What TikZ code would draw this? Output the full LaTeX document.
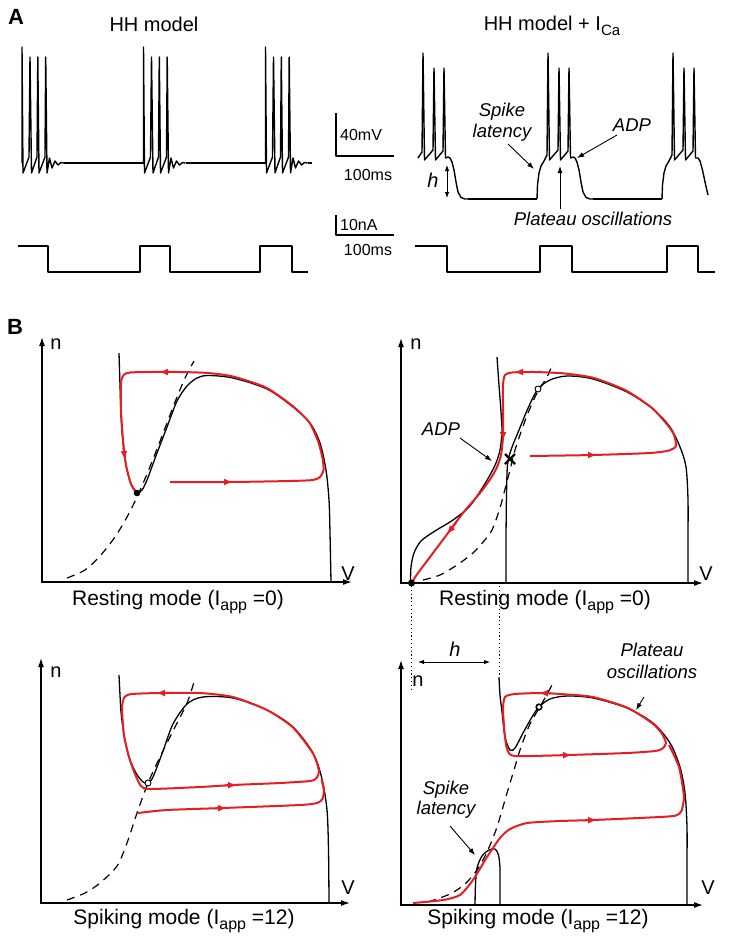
\documentclass[tikz,border=0pt]{standalone}
\usepackage{fontspec}
\setmainfont{Liberation Sans}
\usetikzlibrary{arrows.meta}
\definecolor{mred}{RGB}{228,30,36}
\newcommand\subt[2]{\raisebox{-0.28em}{\fontsize{#1}{#1}\selectfont #2}}
\begin{document}
\begin{tikzpicture}[x=1pt,y=-1pt,font=\fontsize{20}{24}\selectfont,
  trace/.style={line width=1.4pt,line join=round},
  axes/.style={line width=1.3pt,{Latex[length=9pt,width=6pt]}-{Latex[length=9pt,width=6pt]}},
  ncline/.style={line width=1.3pt},
  nnull/.style={line width=1.2pt,dash pattern=on 8pt off 6pt},
  traj/.style={draw=mred,line width=2pt,line join=round},
  redtip/.style={draw=mred,line width=2pt,-{Latex[length=9pt,width=7pt]}},
  pointer/.style={line width=0.9pt,-{Latex[length=7pt,width=5pt]}},
  ann/.style={font=\fontsize{18.5}{21}\selectfont\itshape,inner sep=0pt,align=center},
  txt/.style={inner sep=0pt},
  small/.style={font=\fontsize{16}{18}\selectfont,inner sep=0pt},
  plab/.style={font=\fontsize{21}{24}\selectfont,inner sep=0pt},
  bold/.style={font=\fontsize{22}{24}\selectfont\bfseries,inner sep=0pt},
  dots/.style={line width=0.9pt,dash pattern=on 1.2pt off 2.6pt}]
\useasboundingbox[fill=white] (0,0) rectangle (729,940);

%% ---------------- Panel A ----------------
\node[bold] (lA) at (16,17) {A};
\node[txt] (tHH) at (154,24) {HH model};
\node[txt] (tHHCa) at (552,26) {HH model + I\subt{15}{Ca}};

% left voltage trace
\foreach \s in {22,143.5,265.5}{
  \draw[trace,shift={(\s,0)}] (0,163) -- (0,47) -- (1,173) -- (7,157) -- (8,57) -- (9.5,173)
    -- (15,157) -- (15.8,57) -- (17,173) -- (23,157) -- (23.7,57) -- (25,173)
    -- (27.5,158) -- (30,168) -- (33,161) -- (36,165) -- (39,162.5) -- (42,163);
}
\draw[trace] (64,163) -- (143.5,163);
\draw[trace] (185.5,163) -- (265.5,163);
\draw[trace] (307.5,163) -- (312,163);

% left current trace
\draw[trace] (18,246) -- (48,246) -- (48,272) -- (140,272) -- (140,246) -- (170,246) -- (170,272)
  -- (260,272) -- (260,246) -- (292,246) -- (292,272) -- (308,272);

% scale bars
\draw[trace] (336,113) -- (336,156) -- (394,156);
\node[small,anchor=west] (t40) at (340,135) {40mV};
\node[small] (t100a) at (368,175) {100ms};
\draw[trace] (336,215) -- (336,235) -- (394,235);
\node[small,anchor=west] (t10) at (340,225) {10nA};
\node[small] (t100b) at (368,250) {100ms};

% right voltage trace
\draw[trace,shift={(423,0)}] (-5,158) -- (-1,152) -- (0,53) -- (1.5,160) -- (10,150) -- (11,68) -- (12.5,160)
    -- (20,151) -- (21,68) -- (22.5,158) -- (25,157) -- (27,158) -- (29,162) -- (31,170) -- (33,182)
    -- (35,192) -- (38,197.5) -- (42,199) -- (45,199);
\draw[trace,shift={(548,0)}] (-11,199) -- (-10.5,185) -- (-9,173) -- (-7,166) -- (-4,161) -- (-1,155)
    -- (0,53) -- (1.5,160) -- (10,150) -- (11,68) -- (12.5,160)
    -- (20,151) -- (21,68) -- (22.5,158) -- (25,157) -- (27,158) -- (29,162) -- (31,170) -- (33,182)
    -- (35,192) -- (38,197.5) -- (42,199) -- (45,199);
\draw[trace,shift={(673,0)}] (-11,199) -- (-10.5,185) -- (-9,173) -- (-7,166) -- (-4,161) -- (-1,155)
    -- (0,53) -- (1.5,160) -- (10,150) -- (11,68) -- (12.5,160)
    -- (20,151) -- (21,68) -- (22.5,158) -- (25,158) -- (27,161) -- (29.5,170) -- (32,182) -- (35,195);
\draw[trace] (468,199) -- (537,199);
\draw[trace] (593,199) -- (662,199);

% right current trace
\draw[trace] (415,246) -- (447,246) -- (447,272) -- (540,272) -- (540,246) -- (572,246) -- (572,272)
  -- (667,272) -- (667,246) -- (698,246) -- (698,272) -- (715,272);

% annotations A
\node[ann] (tSL) at (502,122) {Spike\\latency};
\coordinate (sla) at (508,144);
\coordinate (slb) at (534,169);
\draw[pointer] (sla) -- (slb);
\node[ann] (tADPa) at (632,125) {ADP};
\coordinate (adpa) at (617,135);
\coordinate (adpb) at (577,158);
\draw[pointer] (adpa) -- (adpb);
\node[ann] (tPOa) at (593,219) {Plateau oscillations};
\coordinate (poa) at (560,209);
\coordinate (pob) at (560,166);
\draw[pointer] (poa) -- (pob);
\node[ann,font=\fontsize{20}{22}\selectfont\itshape] (th1) at (433,180) {h};
\coordinate (h1a) at (447,165);
\coordinate (h1b) at (447,198);
\draw[line width=0.9pt,{Latex[length=6pt,width=4.5pt]}-{Latex[length=6pt,width=4.5pt]}] (h1a) -- (h1b);

%% ---------------- Panel B ----------------
\node[bold] (lB) at (15,327) {B};

% ---- B1 ----
\draw[axes] (42,337) |- (352,582);
\node[txt] (n1) at (56,344) {n};
\node[txt] (v1) at (348,574) {V};
\node[plab] (rm1) at (178,602) {Resting mode (I\subt{16}{app} =0)};
\draw[ncline] plot[smooth,tension=0.5] coordinates {(119,353) (120,385) (121,415) (123,443) (126,465) (131,484) (137,493) (142,490) (147,480) (157,453) (167,427) (177,401) (187,386) (197,378) (208,375.5) (233,378) (267,389) (293,407) (310,423) (320,443) (326,470) (329,500) (330,533) (331,582)};
\draw[nnull] plot[smooth,tension=0.5] coordinates {(67,578) (85,570) (100,556) (115,537) (127,517) (137,497) (147,474) (157,449) (167,423) (177,397) (186,376) (194,361)};
\draw[traj] plot[smooth,tension=0.4] coordinates {(170,482) (230,482) (290,481) (313,480) (320,477) (323.5,470) (322.5,458) (318,441) (309,422) (292,405.5) (266,387.5) (233,376.5) (208,373) (180,372) (150,372) (130,372.5) (123.5,375) (121,383) (121,410) (123,440) (126,465) (131,484) (137,493)};
\draw[redtip] (222,482) -- (233,482);
\draw[redtip] (171,372) -- (159,372);
\draw[redtip] (123.5,448) -- (125,460);
\fill (137,493) circle (3.3pt);

% ---- B2 ----
\draw[axes] (401,338) |- (703,583);
\node[txt] (n2) at (416,344) {n};
\node[txt] (v2) at (706,574) {V};
\node[plab] (rm2) at (545,602) {Resting mode (I\subt{16}{app} =0)};
\draw[ncline] plot[smooth,tension=0.5] coordinates {(497,357) (499,385) (501,412) (502,432) (500,450) (496,463) (490,475) (481,490) (469,507) (453,520) (435,531) (421,541) (414,553) (411,567) (410.5,583)};
\draw[ncline] plot[smooth,tension=0.5] coordinates {(506,583) (506,540) (506.5,495) (507.5,465) (511,450) (519,430) (529,406) (538,389) (550,380) (567,376) (593,379) (627,392) (653,409) (670,427) (680,447) (686,467) (688,500) (688,540) (688,583)};
\draw[nnull] plot[smooth,tension=0.5] coordinates {(423,580) (440,575) (457,565) (473,553) (484,541) (492,530) (500,508) (505,489) (510,470) (515,450) (521,432) (528,413) (537,393) (547,377) (553,363)};
\draw[traj] plot[smooth,tension=0.4] coordinates {(530,456) (593,455) (650,453) (669,450.5) (676,446) (674,435) (668,425.5) (652,408) (626,390.5) (594,378) (565,373.5) (535,372) (512,372.5) (505,375) (503,385) (503,410) (503,437) (501,455) (497,467) (491,478) (480,493) (463,513) (448,533) (430,557) (418,573) (412,582)};
\draw[redtip] (585,455) -- (597,455);
\draw[redtip] (526,372) -- (514,372);
\draw[redtip] (503,428) -- (503,441);
\draw[redtip] (456,522.5) -- (447,534.5);
\fill (411.5,583) circle (3.5pt);
\draw[line width=0.9pt,fill=white] (538,389) circle (3pt);
\draw[line width=2.2pt] (505,454) -- (515,464) (505,464) -- (515,454);
\node[ann] (tADPb) at (441,429) {ADP};
\coordinate (adp2a) at (460,438);
\coordinate (adp2b) at (492,461);
\draw[pointer] (adp2a) -- (adp2b);

% dotted guides and h
\coordinate (d1a) at (411,586);
\coordinate (d1b) at (411,689);
\coordinate (d2a) at (499,586);
\coordinate (d2b) at (499,677);
\draw[dots] (d1a) -- (d1b);
\draw[dots] (d2a) -- (d2b);
\coordinate (h2a) at (418,662);
\coordinate (h2b) at (490,662);
\draw[line width=0.9pt,{Latex[length=6pt,width=4.5pt]}-{Latex[length=6pt,width=4.5pt]}] (h2a) -- (h2b);
\node[ann,font=\fontsize{20}{22}\selectfont\itshape] (th2) at (455,649) {h};

% ---- B3 ----
\draw[axes] (41,658) |- (350,903);
\node[txt] (n3) at (56,672) {n};
\node[txt] (v3) at (348,888) {V};
\node[plab] (sm1) at (184,921) {Spiking mode (I\subt{16}{app} =12)};
\draw[ncline] plot[smooth,tension=0.5] coordinates {(119,675) (120,695) (121,712) (124,735) (129,757) (136,773) (143,782) (148,783) (153,777) (163,751) (173,724) (187,704) (203,697) (233,698) (267,710) (293,727) (313,753) (322,779) (327,810) (328.5,850) (329,903)};
\draw[nnull] plot[smooth,tension=0.5] coordinates {(67,900) (85,893) (100,883) (117,866) (127,843) (137,813) (148,783) (160,757) (173,731) (187,703) (194,682)};
\draw[traj] plot[smooth cycle,tension=0.4] coordinates {(150,789) (200,787) (233,785) (280,783) (310,781) (316.5,778) (319,771) (313,753.5) (293,727.5) (267,710) (233,697) (200,693) (160,693) (132,694) (124.5,697) (122,708) (124,735) (129,757) (135,774) (141,786)};
\draw[traj] plot[smooth,tension=0.4] coordinates {(138,813) (167,810) (223,808) (300,805) (317,803) (322.5,799) (323.8,790) (321.5,779)};
\draw[redtip] (168,693) -- (156,693);
\draw[redtip] (225,785.3) -- (237,785);
\draw[redtip] (215,808.3) -- (227,808);
\draw[line width=0.9pt,fill=white] (148,783) circle (3pt);

% ---- B4 ----
\draw[axes] (401,660) |- (703,905);
\node[txt] (n4) at (418,681) {n};
\node[txt] (v4) at (708,888) {V};
\node[plab] (sm2) at (538,921) {Spiking mode (I\subt{16}{app} =12)};
\draw[ncline] plot[smooth,tension=0.5] coordinates {(499,677) (500,695) (502,712) (505,737) (510,750) (515,748) (523,733) (532,717) (539,707) (550,699) (567,696) (593,698) (627,708) (653,723) (670,743) (680,767) (685,793) (687,827) (687,865) (687,905)};
\draw[ncline] plot[smooth,tension=0.5] coordinates {(475,905) (475.5,885) (477,868) (482,856) (489,850) (495,849) (498.5,855) (500,868) (500,885) (500,905)};
\draw[nnull] plot[smooth,tension=0.5] coordinates {(428,902) (450,894) (465,884) (477,870) (487,852) (497,827) (507,793) (514,770) (521,747) (530,724) (541,705) (552,685)};
\draw[traj] plot[smooth,tension=0.4] coordinates {(413,903) (443,900) (460,895) (473,880) (487,857) (500,838) (510,829) (527,823) (560,821) (593,820) (660,817) (676,815.5) (681.5,811) (683.8,800) (683.5,792) (679,767) (669,745)};
\draw[traj] plot[smooth cycle,tension=0.4] coordinates {(515,756) (568,755) (627,753) (655,751) (662.5,748.5) (666,743) (661.5,733) (652,723) (627,707.5) (593,697) (567,694.5) (542,693) (515,694) (505,697) (503,710) (505,737) (507.5,750)};
\draw[redtip] (551,693.3) -- (539,693);
\draw[redtip] (560,755.2) -- (572,755);
\draw[redtip] (585,820.2) -- (597,820);
\draw[line width=1.6pt,fill=white] (539,707) circle (2.8pt);
\node[ann,font=\fontsize{18.5}{22}\selectfont\itshape] (tPOb) at (652,661) {Plateau\\oscillations};
\coordinate (po2a) at (644,697);
\coordinate (po2b) at (636,710);
\draw[pointer] (po2a) -- (po2b);
\node[ann,font=\fontsize{18.5}{20}\selectfont\itshape] (tSLb) at (446,800) {Spike\\latency};
\coordinate (sl2a) at (450,826);
\coordinate (sl2b) at (475,855);
\draw[pointer] (sl2a) -- (sl2b);
\end{tikzpicture}
\end{document}
